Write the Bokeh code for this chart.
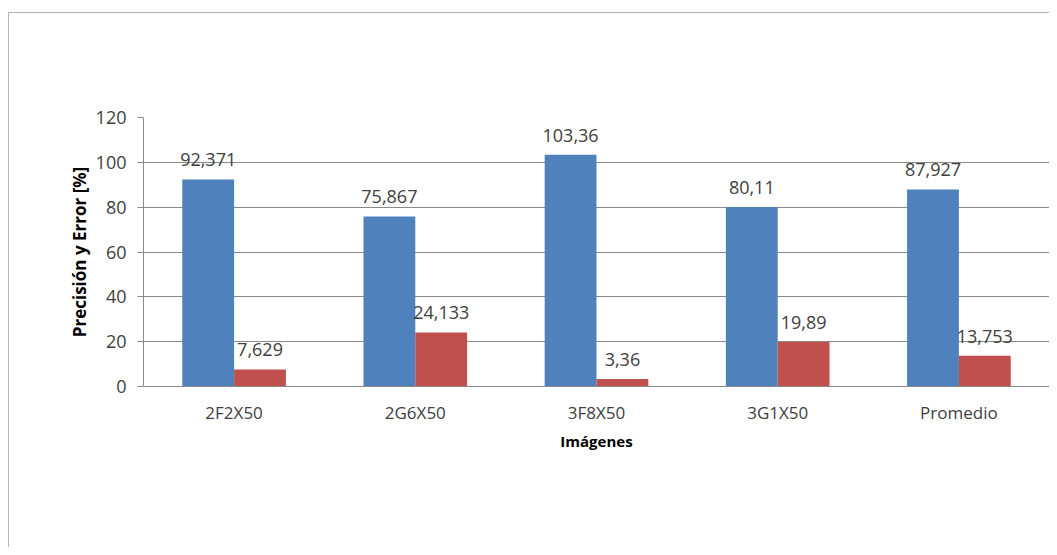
from bokeh.plotting import figure
from bokeh.models import ColumnDataSource, LabelSet, FactorRange
from bokeh.transform import dodge
from bokeh.core.properties import value
from bokeh.embed import file_html
from bokeh.resources import INLINE

categories = ["2F2X50", "2G6X50", "3F8X50", "3G1X50", "Promedio"]
precision = [92.371, 75.867, 103.36, 80.11, 87.927]
error = [7.629, 24.133, 3.36, 19.89, 13.753]
y_ticks = [0, 20, 40, 60, 80, 100, 120]

def fmt(v):
    return str(v).replace(".", ",")

src = ColumnDataSource(dict(
    cat=categories,
    prec=precision,
    err=error,
    prec_lbl=[fmt(v) for v in precision],
    err_lbl=[fmt(v) for v in error],
))

FONT = "Open Sans"
TXT = "#404040"
GRID = "#8a8a8a"
EDGE = "#b4b4b4"

p = figure(
    x_range=FactorRange(*categories, range_padding=0),
    y_range=(0, 120),
    width=1049, height=547,
    output_backend="svg", toolbar_location=None,
    min_border_left=143, min_border_right=0,
    min_border_top=117, min_border_bottom=161,
)
# thin chart-area edge (left and top) drawn as the element's background
p.styles = {
    "background": (
        f"linear-gradient({EDGE},{EDGE}) 8px 12px / 100% 1px no-repeat, "
        f"linear-gradient({EDGE},{EDGE}) 8px 12px / 1px 100% no-repeat, white"
    )
}
p.outline_line_color = None
p.background_fill_color = "white"
p.border_fill_color = None

bw = 0.286
p.vbar(x=dodge("cat", -bw / 2, range=p.x_range), top="prec", width=bw,
       source=src, fill_color="#4F81BD", line_color=None)
p.vbar(x=dodge("cat", bw / 2, range=p.x_range), top="err", width=bw,
       source=src, fill_color="#C0504D", line_color=None)

for col, lbl, off in (("prec", "prec_lbl", -bw / 2), ("err", "err_lbl", bw / 2)):
    p.add_layout(LabelSet(
        x=dodge("cat", off, range=p.x_range), y=col, text=lbl, source=src,
        text_align="center", text_baseline="alphabetic", y_offset=13,
        text_font=value(FONT), text_font_size="18px", text_color=TXT,
    ))

# grid
p.xgrid.grid_line_color = None
p.ygrid.grid_line_color = GRID
p.ygrid.grid_line_width = 1
p.yaxis.ticker = y_ticks

# y axis
p.yaxis.axis_line_color = GRID
p.yaxis.major_tick_line_color = GRID
p.yaxis.major_tick_out = 6
p.yaxis.major_tick_in = 0
p.yaxis.minor_tick_line_color = None
p.yaxis.major_label_standoff = 11
p.yaxis.major_label_text_font = FONT
p.yaxis.major_label_text_font_size = "18px"
p.yaxis.major_label_text_color = TXT
p.yaxis.axis_label = "Precisión y Error [%]"
p.yaxis.axis_label_text_font = FONT
p.yaxis.axis_label_text_font_size = "17px"
p.yaxis.axis_label_text_font_style = "bold"
p.yaxis.axis_label_text_color = "#000000"
p.yaxis.axis_label_standoff = 2

# x axis
p.xaxis.axis_line_color = GRID
p.xaxis.major_tick_line_color = None
p.xaxis.minor_tick_line_color = None
p.xaxis.major_label_standoff = 8
p.xaxis.major_label_text_font = FONT
p.xaxis.major_label_text_font_size = "17px"
p.xaxis.major_label_text_color = TXT
p.xaxis.axis_label = "Imágenes"
p.xaxis.axis_label_text_font = FONT
p.xaxis.axis_label_text_font_size = "15px"
p.xaxis.axis_label_text_font_style = "bold"
p.xaxis.axis_label_text_color = "#000000"
p.xaxis.axis_label_standoff = 4

open("out.html", "w").write(file_html(p, INLINE))
